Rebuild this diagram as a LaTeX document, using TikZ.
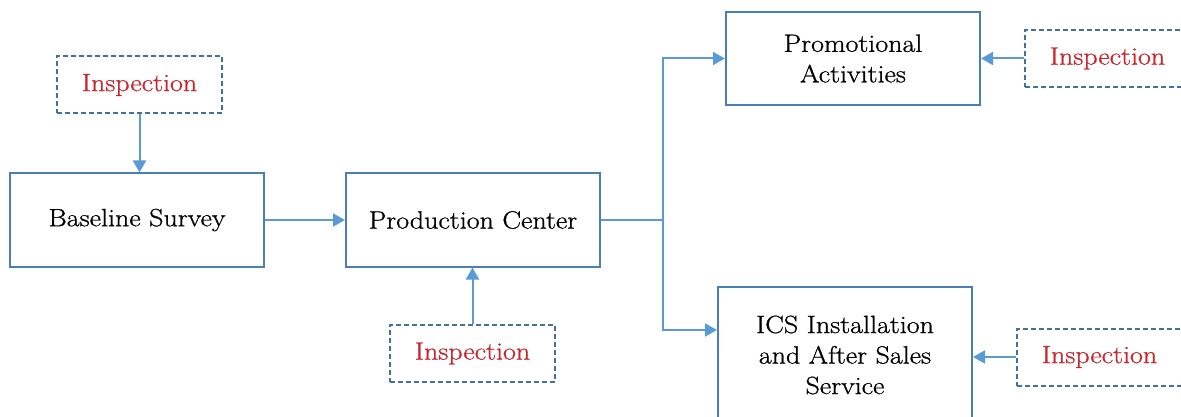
\documentclass[tikz,border=0pt]{standalone}
\usepackage{fontspec}
\setmainfont{Latin Modern Roman}[FakeStretch=1.12,FakeBold=0.8]
\usepackage{tikz}
\usetikzlibrary{%
  arrows.meta,%
  positioning
}
\definecolor{linkblue}{HTML}{5B9BD5}
\definecolor{boxblue}{HTML}{4A7EBB}
\definecolor{dashblue}{HTML}{41719C}
\definecolor{inspred}{HTML}{C8262D}

\begin{document}
\begin{tikzpicture}[x=1pt,y=-1pt,
    stagebox/.style={draw=boxblue,line width=2pt,fill=white,align=center,
      minimum width=254pt,minimum height=93pt,
      font=\fontsize{25}{30.5}\selectfont},
    inspbox/.style={draw=dashblue,line width=2pt,dash pattern=on 5pt off 3pt,
      minimum width=165pt,minimum height=57pt,text=inspred,
      font=\fontsize{25}{30.5}\selectfont},
    link/.style={draw=linkblue,line width=2pt,-{Triangle[length=12pt,width=13pt]}}]
      \useasboundingbox (0,0) rectangle (1181,417);
      \node [stagebox] (survey) at (137,220) {Baseline Survey};
      \node [stagebox] (center) at (473,220) {Production Center};
      \node [stagebox] (promo) at (853,58.5) {Promotional\\Activities};
      \node [stagebox,minimum height=136pt] (ics) at (845,355)
        {ICS Installation\\and After Sales\\Service};
      \node [inspbox] (inspA) at (139.5,85) {Inspection};
      \node [inspbox] (inspB) at (472.5,353.5) {Inspection};
      \node [inspbox] (inspC) at (1107.5,58.5) {Inspection};
      \node [inspbox] (inspD) at (1099.5,357) {Inspection};
      \coordinate (split) at (663,220);
      %\draw [link] (survey) -- (center);
      \draw [link] (survey.east) -- (center.west);
      \draw [link] (inspA.south) -- (inspA.south |- survey.north);
      \draw [link] (inspB.north) -- (inspB.north |- center.south);
      \draw [link] (inspC.west) -- (promo.east);
      \draw [link] (inspD.west) -- (inspD.west -| ics.east);
      \draw [draw=linkblue,line width=2pt] (center.east) -- (split);
      \draw [link] (split) |- (promo.west);
      \draw [link] (split) |- ([yshift=25pt]ics.west);
    \end{tikzpicture}
\end{document}
